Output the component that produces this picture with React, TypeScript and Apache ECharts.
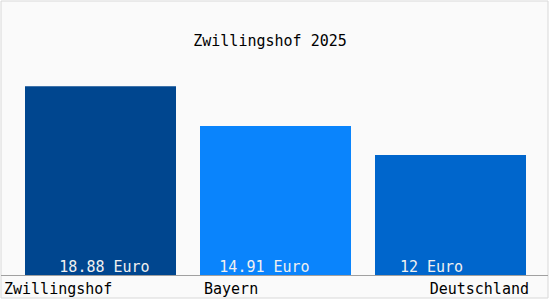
import React, { useEffect, useRef } from "react";
import * as echarts from "echarts";

const title = "Zwillingshof 2025";
const categories = ["Zwillingshof", "Bayern", "Deutschland"];
const values = [18.88, 14.91, 12];
const valueLabels = ["18.88 Euro", "14.91 Euro", "12 Euro"];
const barColors = ["#00468f", "#0a84fc", "#0066cc"];
const labelOffsets = [4, -11, -19];

const FONT = "DejaVu Sans Mono";

export default function App() {
  const ref = useRef<HTMLDivElement>(null);
  useEffect(() => {
    if (!ref.current) return;
    const chart = echarts.init(ref.current, undefined, { renderer: "svg" });
    chart.setOption({
      animation: false,
      backgroundColor: "#ffffff",
      title: {
        text: title,
        left: 265,
        top: 28,
        textAlign: "center",
        textStyle: { fontFamily: FONT, fontSize: 15, fontWeight: "normal", color: "#000" },
      },
      grid: { left: 13, right: 12, top: 75, bottom: 25 },
      xAxis: {
        type: "category",
        data: categories,
        axisLine: { show: false },
        axisTick: { show: false },
        axisLabel: { show: false },
      },
      yAxis: {
        type: "value",
        min: 0,
        max: 20,
        show: false,
        splitLine: { show: false },
      },
      graphic: [
        {
          type: "rect",
          z: -10,
          shape: { x: 1, y: 1, width: 547, height: 297 },
          style: { fill: "#fafafa", stroke: "#d8d8d8", lineWidth: 1 },
          silent: true,
        },
        {
          type: "line",
          z: 10,
          shape: { x1: 1, y1: 275.5, x2: 548, y2: 275.5 },
          style: { stroke: "#a0a0a0", lineWidth: 1 },
        },
        ...categories.map((c, i) => ({
          type: "text",
          z: 10,
          x: i === 0 ? 4 : i === 1 ? 204 : 529,
          y: 289,
          style: {
            text: c,
            fontFamily: FONT,
            fontSize: 15,
            fill: "#000",
            align: i === 2 ? "right" : "left",
            verticalAlign: "middle",
          },
        })),
      ],
      series: [
        {
          type: "bar",
          barWidth: 151,
          data: values.map((v, i) => ({
            value: v,
            itemStyle: { color: barColors[i] },
            label: {
              show: true,
              position: "insideBottom",
              distance: 1,
              offset: [labelOffsets[i], 0],
              formatter: valueLabels[i],
              color: "#f0f0f0",
              fontFamily: FONT,
              fontSize: 15,
            },
          })),
        },
      ],
    });
    return () => chart.dispose();
  }, []);
  return (
    <div
      ref={ref}
      style={{ position: "absolute", left: 0, top: 0, width: 550, height: 300 }}
    />
  );
}
